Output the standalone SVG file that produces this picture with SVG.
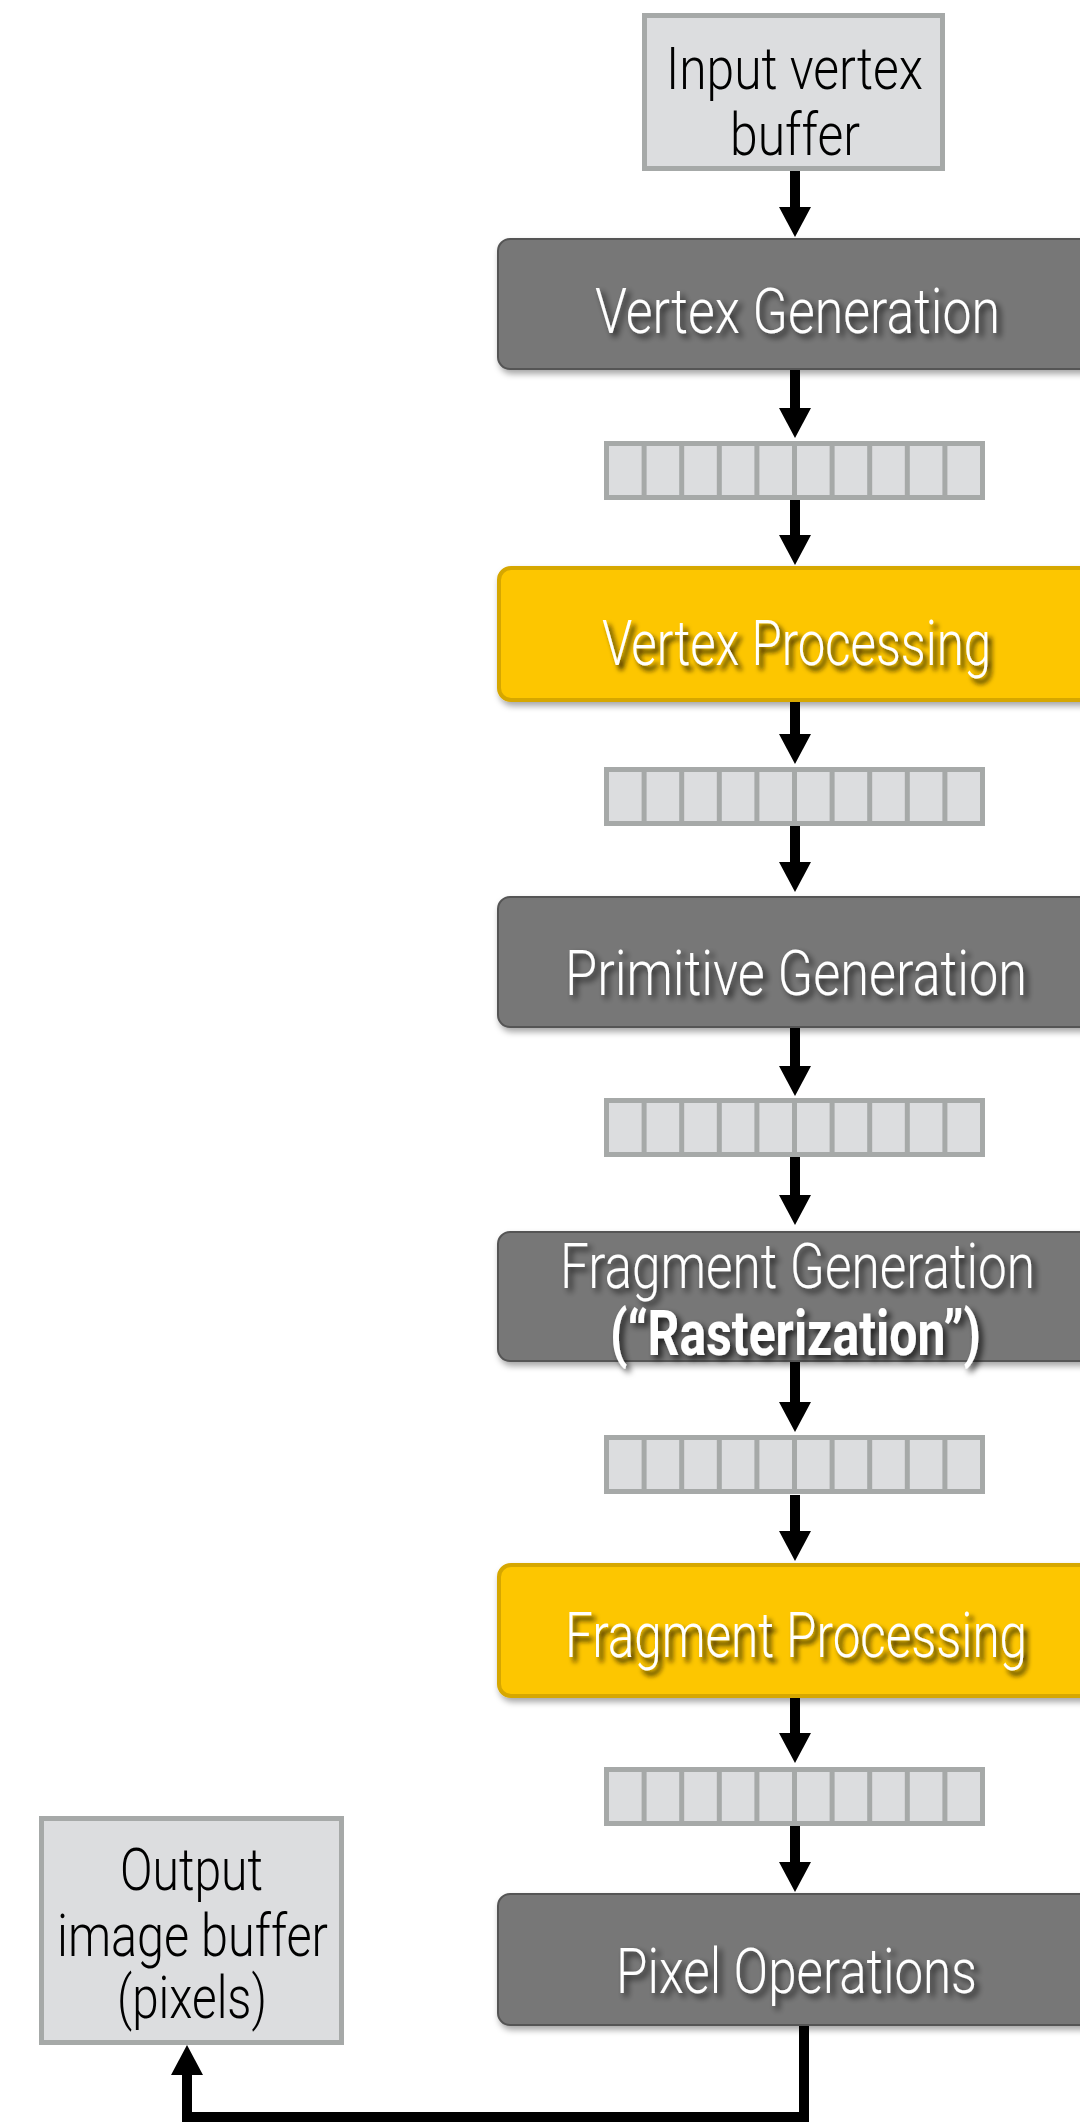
<svg xmlns="http://www.w3.org/2000/svg" width="1080" height="2123" viewBox="0 0 1080 2123">
  <style>
    .buf { fill: #dcdddf; stroke: #a6a9a8; stroke-width: 5; }
    .btxt { font-family: Roboto, "Liberation Sans", sans-serif; font-weight: 300; font-size: 59px; fill: #000000; }
    .gray { fill: #777777; stroke: #555555; stroke-width: 2; filter: url(#boxShadow); }
    .gold { fill: #fdc600; stroke: #d6a700; stroke-width: 4; filter: url(#boxShadow); }
    .ltxt { font-family: Roboto, "Liberation Sans", sans-serif; font-weight: 300; font-size: 63px; fill: #ffffff; }
    .bold { font-weight: 700; }
    .gshadow { filter: url(#grayTextShadow); }
    .yshadow { filter: url(#goldTextShadow); }
    .strip-out { fill: #a6a9a8; }
    .cell { fill: #dcdddf; }
    .conn { stroke: #000000; stroke-width: 10; fill: none; marker-end: url(#head); }
  </style>
  <defs>
    <marker id="head" markerUnits="userSpaceOnUse" viewBox="0 0 30 32" markerWidth="30" markerHeight="32" refX="0" refY="16" orient="auto">
      <path d="M0,0 L30,16 L0,32 Z" fill="#000000"/>
    </marker>
    <filter id="boxShadow" x="-10%" y="-20%" width="130%" height="150%">
      <feDropShadow dx="2" dy="4" stdDeviation="3" flood-color="#000000" flood-opacity="0.35"/>
    </filter>
    <filter id="grayTextShadow" x="-10%" y="-30%" width="130%" height="170%">
      <feDropShadow dx="4" dy="4" stdDeviation="3" flood-color="#000000" flood-opacity="0.75"/>
    </filter>
    <filter id="goldTextShadow" x="-10%" y="-30%" width="130%" height="170%">
      <feDropShadow dx="4" dy="5" stdDeviation="2.5" flood-color="#1a1200" flood-opacity="0.95"/>
    </filter>
    <g id="strip">
      <rect class="strip-out" x="0" y="0" width="381" height="59"/>
      <rect class="cell" x="5" y="5" width="32.6" height="49"/>
      <rect class="cell" x="42.6" y="5" width="32.6" height="49"/>
      <rect class="cell" x="80.2" y="5" width="32.6" height="49"/>
      <rect class="cell" x="117.8" y="5" width="32.6" height="49"/>
      <rect class="cell" x="155.4" y="5" width="32.6" height="49"/>
      <rect class="cell" x="193" y="5" width="32.6" height="49"/>
      <rect class="cell" x="230.6" y="5" width="32.6" height="49"/>
      <rect class="cell" x="268.2" y="5" width="32.6" height="49"/>
      <rect class="cell" x="305.8" y="5" width="32.6" height="49"/>
      <rect class="cell" x="343.4" y="5" width="32.6" height="49"/>
    </g>
  </defs>

  <rect width="1080" height="2123" fill="#ffffff"/>

  <g id="connectors">
    <line class="conn" x1="795" y1="171" x2="795" y2="207"/>
    <line class="conn" x1="795" y1="370" x2="795" y2="408"/>
    <line class="conn" x1="795" y1="499" x2="795" y2="535"/>
    <line class="conn" x1="795" y1="702" x2="795" y2="734"/>
    <line class="conn" x1="795" y1="826" x2="795" y2="862"/>
    <line class="conn" x1="795" y1="1028" x2="795" y2="1066"/>
    <line class="conn" x1="795" y1="1157" x2="795" y2="1195"/>
    <line class="conn" x1="795" y1="1362" x2="795" y2="1402"/>
    <line class="conn" x1="795" y1="1495" x2="795" y2="1531"/>
    <line class="conn" x1="795" y1="1698" x2="795" y2="1733"/>
    <line class="conn" x1="795" y1="1826" x2="795" y2="1862"/>
    <path class="conn" d="M804,2026 V2117 H187 V2075" stroke-linejoin="miter"/>
  </g>

  <g id="input-vertex-buffer">
    <rect class="buf" x="644.5" y="15.5" width="298" height="153"/>
    <text class="btxt" x="666" y="89" textLength="257" lengthAdjust="spacingAndGlyphs">Input vertex</text>
    <text class="btxt" x="730" y="155" textLength="130" lengthAdjust="spacingAndGlyphs">buffer</text>
  </g>

  <g id="vertex-generation">
    <rect class="gray" x="498" y="239" width="620" height="130" rx="12"/>
    <text class="ltxt gshadow" x="595" y="333" textLength="405" lengthAdjust="spacingAndGlyphs">Vertex Generation</text>
  </g>

  <g id="buffer-1"><use href="#strip" x="604" y="441"/></g>

  <g id="vertex-processing">
    <rect class="gold" x="499" y="568" width="620" height="132" rx="12"/>
    <text class="ltxt yshadow" x="602" y="665" textLength="389" lengthAdjust="spacingAndGlyphs">Vertex Processing</text>
  </g>

  <g id="buffer-2"><use href="#strip" x="604" y="767"/></g>

  <g id="primitive-generation">
    <rect class="gray" x="498" y="897" width="620" height="130" rx="12"/>
    <text class="ltxt gshadow" x="565" y="995" textLength="462" lengthAdjust="spacingAndGlyphs">Primitive Generation</text>
  </g>

  <g id="buffer-3"><use href="#strip" x="604" y="1098"/></g>

  <g id="fragment-generation">
    <rect class="gray" x="498" y="1232" width="620" height="129" rx="12"/>
    <text class="ltxt gshadow" x="560" y="1288" textLength="475" lengthAdjust="spacingAndGlyphs">Fragment Generation</text>
    <text class="ltxt bold gshadow" x="610" y="1355" textLength="371" lengthAdjust="spacingAndGlyphs">(“Rasterization”)</text>
  </g>

  <g id="buffer-4"><use href="#strip" x="604" y="1435"/></g>

  <g id="fragment-processing">
    <rect class="gold" x="499" y="1565" width="620" height="131" rx="12"/>
    <text class="ltxt yshadow" x="565" y="1657" textLength="462" lengthAdjust="spacingAndGlyphs">Fragment Processing</text>
  </g>

  <g id="buffer-5"><use href="#strip" x="604" y="1767"/></g>

  <g id="pixel-operations">
    <rect class="gray" x="498" y="1894" width="620" height="131" rx="12"/>
    <text class="ltxt gshadow" x="616" y="1993" textLength="361" lengthAdjust="spacingAndGlyphs">Pixel Operations</text>
  </g>

  <g id="output-image-buffer">
    <rect class="buf" x="41.5" y="1818.5" width="300" height="224"/>
    <text class="btxt" x="120" y="1890" textLength="143" lengthAdjust="spacingAndGlyphs">Output</text>
    <text class="btxt" x="57" y="1956" textLength="271" lengthAdjust="spacingAndGlyphs">image buffer</text>
    <text class="btxt" x="117" y="2018" textLength="150" lengthAdjust="spacingAndGlyphs">(pixels)</text>
  </g>
</svg>
